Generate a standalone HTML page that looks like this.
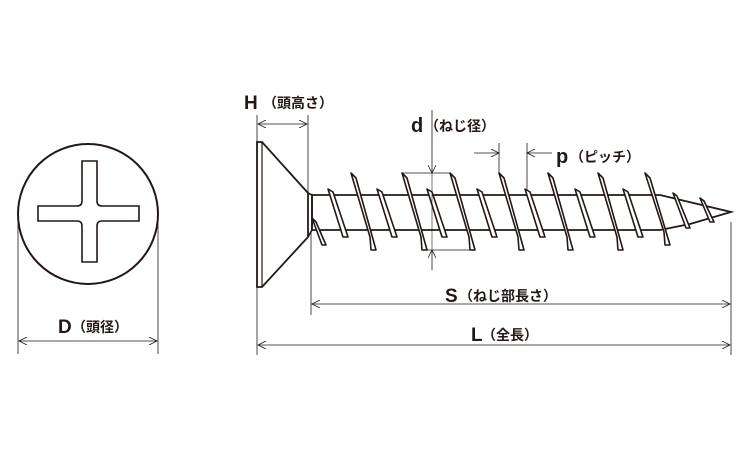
<!DOCTYPE html>
<html><head><meta charset="utf-8"><style>
html,body{margin:0;padding:0;background:#fff;}
svg{display:block;}
text{font-family:"Liberation Sans","Noto Sans CJK JP",sans-serif;fill:#231815;font-weight:bold;}
</style></head><body>
<svg width="750" height="450" viewBox="0 0 750 450" xmlns="http://www.w3.org/2000/svg">
<defs>
<marker id="a" viewBox="0 0 10 10" refX="10" refY="5" markerWidth="10" markerHeight="8" orient="auto-start-reverse" markerUnits="userSpaceOnUse"><path d="M0,0 L10,5 L0,10" fill="none" stroke="#231815" stroke-width="1"/></marker>
</defs>
<g stroke="#231815" fill="none">
<circle cx="88" cy="214" r="70" stroke-width="2" fill="#fff"/>
<path d="M82,161 H97 V201 Q97,206 102,206 H139 V221 H102 Q97,221 97,226 V262 H82 V226 Q82,221 77,221 H38 V206 H77 Q82,206 82,201 Z" stroke-width="1.6"/>
<line x1="18" y1="216" x2="18" y2="354" stroke-width="0.8"/>
<line x1="158" y1="216" x2="158" y2="354" stroke-width="0.8"/>
<line x1="19" y1="341" x2="157" y2="341" stroke-width="0.8" marker-start="url(#a)" marker-end="url(#a)"/>

<path d="M257,142 L262,142 L308,193 L308,237 L262,287 L257,287 Z" stroke-width="1.8" fill="#fff"/>
<line x1="262" y1="142" x2="262" y2="287" stroke-width="1.2"/>
<path d="M312,195 L660,195 L731,212 L690,224 L660,230 L312,230 Z" stroke-width="1.8" fill="#fff"/>
<path d="M308,193 L312,195 L312,230 L308,237" stroke-width="1.6"/>
<g stroke-width="1.6" fill="#fff" stroke-linejoin="round">
<polygon points="351,173 356,178 376,250 371,250 370,237"/>
<polygon points="402,173 407,178 427,250 422,250 421,237"/>
<polygon points="450,173 455,178 475,250 470,250 469,237"/>
<polygon points="499,173 504,178 524,250 519,250 518,237"/>
<polygon points="548,173 553,178 573,250 568,250 567,237"/>
<polygon points="598,173 603,178 623,250 618,250 617,237"/>
<polygon points="645,173 650,178 670,245 665,245 664,232"/>
<polygon points="328,189 333,192 348,237 343,237"/>
<polygon points="377,189 382,192 397,237 392,237"/>
<polygon points="427,189 432,192 447,237 442,237"/>
<polygon points="477,189 482,192 497,237 492,237"/>
<polygon points="525,189 530,192 545,237 540,237"/>
<polygon points="575,189 580,192 595,237 590,237"/>
<polygon points="623,189 628,192 643,237 638,237"/>
<polygon points="673,193 677,196 690,228 686,228"/>
<polygon points="700,198 704,201 714,222 710,222"/>
<polygon points="312,218 316,222 326,245 322,245"/>
</g>
<polyline points="402,173 450,173" stroke-width="0.8"/>
<polyline points="423,250 471,250" stroke-width="0.8"/>
<line x1="432" y1="110" x2="432" y2="173" stroke-width="0.8" marker-end="url(#a)"/>
<line x1="432" y1="173" x2="432" y2="250" stroke-width="0.6"/>
<line x1="432" y1="270" x2="432" y2="250" stroke-width="0.8" marker-end="url(#a)"/>
<line x1="499" y1="143" x2="499" y2="173" stroke-width="0.8"/>
<line x1="527" y1="143" x2="527" y2="190" stroke-width="0.8"/>
<line x1="474" y1="153" x2="499" y2="153" stroke-width="0.8" marker-end="url(#a)"/>
<line x1="552" y1="153" x2="527" y2="153" stroke-width="0.8" marker-end="url(#a)"/>
<line x1="308" y1="115" x2="308" y2="193" stroke-width="0.8"/>
<line x1="257" y1="115" x2="257" y2="142" stroke-width="0.8"/>
<line x1="258" y1="124" x2="307" y2="124" stroke-width="0.8" marker-start="url(#a)" marker-end="url(#a)"/>
<line x1="311" y1="232" x2="311" y2="315" stroke-width="0.8"/>
<line x1="731" y1="222" x2="731" y2="355" stroke-width="0.8"/>
<line x1="257" y1="287" x2="257" y2="355" stroke-width="0.8"/>
<line x1="312" y1="304" x2="730" y2="304" stroke-width="0.8" marker-start="url(#a)" marker-end="url(#a)"/>
<line x1="258" y1="345" x2="730" y2="345" stroke-width="0.8" marker-start="url(#a)" marker-end="url(#a)"/>
</g>
<text x="244" y="109" font-size="19">H</text><text x="263" y="108" font-size="14">（頭高さ）</text>
<text x="411" y="132" font-size="20">d</text><text x="425" y="131" font-size="14">（ねじ径）</text>
<text x="556" y="163" font-size="20">p</text><text x="570" y="162" font-size="14">（ピッチ）</text>
<text x="445" y="302" font-size="19">S</text><text x="459" y="301" font-size="14">（ねじ部長さ）</text>
<text x="471" y="341" font-size="19">L</text><text x="482" y="340" font-size="14">（全長）</text>
<text x="58" y="333" font-size="19">D</text><text x="72" y="332" font-size="14">（頭径）</text>
</svg>
</body></html>
